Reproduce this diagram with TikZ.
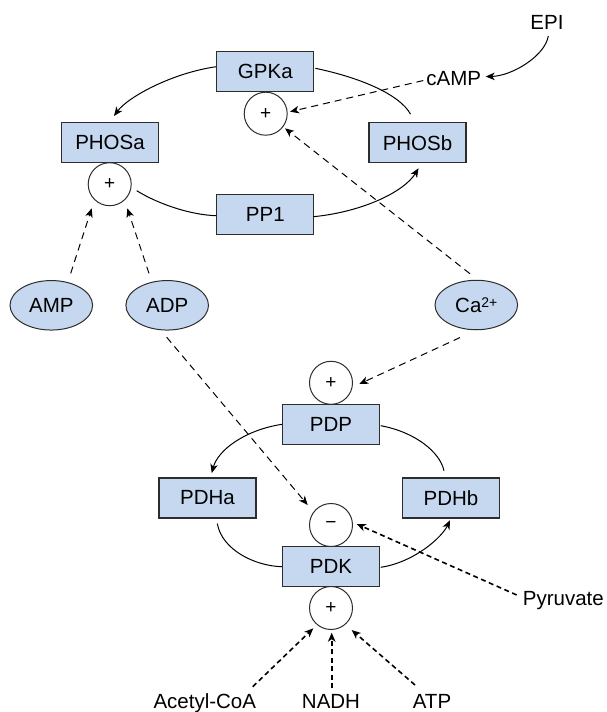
\documentclass[tikz,border=0pt]{standalone}
\usepackage{fontspec}
\setmainfont{Liberation Sans}
\usetikzlibrary{arrows.meta,shapes.geometric,calc}
\definecolor{enzfill}{RGB}{198,216,239}
\definecolor{enzline}{RGB}{45,45,45}
\begin{document}
\begin{tikzpicture}[x=1pt,y=-1pt,
  enzyme/.style={draw=enzline,fill=enzfill,line width=1.1pt,minimum width=97pt,
    minimum height=40pt,inner sep=0pt,font=\fontsize{20.5}{24}\selectfont},
  effector/.style={ellipse,draw=enzline,fill=enzfill,line width=1pt,minimum width=82.6pt,
    minimum height=49.5pt,inner sep=0pt,font=\fontsize{20.5}{24}\selectfont},
  sign/.style={circle,draw=enzline,line width=1pt,minimum size=43pt,inner sep=0pt,
    font=\fontsize{19}{20}\selectfont},
  txt/.style={inner sep=0pt,anchor=base,font=\fontsize{20.5}{24}\selectfont},
  tip/.style={-{Stealth[length=9pt,width=7.5pt,inset=2.5pt]}},
  conn/.style={line width=1pt},
  flow/.style={conn,tip},
  reg/.style={line width=1pt,dash pattern=on 7pt off 5pt,tip},
  regbold/.style={line width=1.6pt,dash pattern=on 5pt off 3.5pt,tip},
]
\useasboundingbox (0,0) rectangle (606,712);

% glycogen phosphorylase cycle
\node[enzyme] (GPKa) at (265.3,71.7) {GPKa};
\node[sign] (gpkplus) at (265.7,113.7) {+};
\node[enzyme] (PHOSa) at (110,142.5) {PHOSa};
\node[sign] (phosplus) at (109.7,184.2) {+};
\node[enzyme] (PHOSb) at (417.5,142.7) {PHOSb};
\node[enzyme] (PP1) at (265.3,214.3) {PP1};
\node[txt] (EPI) at (547,29.3) {EPI};
\node[txt] (cAMP) at (453.8,85) {cAMP};

% effectors
\node[effector] (AMP) at (51.3,305.3) {AMP};
\node[effector] (ADP) at (167.2,305.3) {ADP};
\node[effector] (Ca) at (476.3,305) {Ca\raisebox{5pt}{\fontsize{14}{14}\selectfont 2+}};

% pyruvate dehydrogenase cycle
\node[sign] (pdpplus) at (331,382.8) {+};
\node[enzyme] (PDP) at (331,424.3) {PDP};
\node[enzyme] (PDHa) at (207.5,498) {PDHa};
\node[enzyme] (PDHb) at (451,498) {PDHb};
\node[sign] (pdkminus) at (331,525) {−};
\node[enzyme] (PDK) at (331,566.7) {PDK};
\node[sign] (pdkplus) at (331,608) {+};
\node[txt,anchor=base west] (Pyr) at (522.7,605.7) {Pyruvate};
\node[txt] (AcCoA) at (204.8,708.3) {Acetyl-CoA};
\node[txt] (NADH) at (331,708.3) {NADH};
\node[txt] (ATP) at (432,708.3) {ATP};

% phosphorylase interconversion
\draw[flow] ($(GPKa.west)+(0,-5)$) .. controls (172,73) and (128,97) .. ($(PHOSa.north)+(4,-6)$);
\draw[conn] ($(GPKa.east)+(1,-3.4)$) .. controls (362,78) and (400,95) .. ($(PHOSb.north)+(-7,-8)$);
\draw[conn] ($(phosplus.center)+(27,6.5)$) .. controls (160,205) and (192,215) .. ($(PP1.west)+(0,1.4)$);
\draw[flow] ($(PP1.east)+(-1,2.4)$) .. controls (362,212) and (404,192) .. ($(PHOSb.south)+(1,5)$);
\draw[flow] ($(EPI.base)+(1.3,6.7)$) .. controls (545,56) and (512,76) .. ($(cAMP.east)+(4.3,-1.5)$);

% regulators of the phosphorylase cycle
\draw[reg] ($(cAMP.west)+(-3,2.5)$) -- ($(gpkplus.center)+(24.3,-2)$);
\draw[reg] ($(Ca.north)+(-6.3,-6)$) -- ($(gpkplus.center)+(19.3,14.6)$);
\draw[reg] ($(AMP.north)+(19.4,-6.7)$) -- ($(phosplus.center)+(-18,24.1)$);
\draw[reg] ($(ADP.north)+(-18.2,-6.7)$) -- ($(phosplus.center)+(17.6,24.1)$);
\draw[reg] ($(ADP.south)+(-0.5,6.7)$) -- ($(pdkminus.center)+(-23.3,-20)$);
\draw[reg] ($(Ca.south)+(-16.3,7.3)$) -- ($(pdpplus.center)+(28.3,1.2)$);

% pyruvate dehydrogenase interconversion
\draw[flow] (PDP.west) .. controls (245,430) and (218,450) .. ($(PDHa.north)+(4.2,-4.4)$);
\draw[conn] ($(PDP.east)+(0.7,1.4)$) .. controls (415,432) and (440,452) .. ($(PDHb.north)+(-7,-6.7)$);
\draw[conn] ($(PDHa.south)+(9.8,5)$) .. controls (222,550) and (255,566) .. (PDK.west);
\draw[flow] ($(PDK.east)+(0.7,0.6)$) .. controls (415,562) and (442,537) .. ($(PDHb.south)+(-1,1.7)$);

% regulators of the kinase
\draw[regbold] ($(Pyr.base west)+(-6,-10.7)$) -- ($(pdkminus.center)+(25.7,-1)$);
\draw[regbold] ($(AcCoA.base)+(47.9,-21.6)$) -- ($(pdkplus.center)+(-17.7,20.3)$);
\draw[regbold] ($(NADH.base)+(0.7,-20)$) -- ($(pdkplus.center)+(0.7,24.7)$);
\draw[regbold] ($(ATP.base)+(-17,-23.3)$) -- ($(pdkplus.center)+(20.7,22)$);
\end{tikzpicture}
\end{document}
